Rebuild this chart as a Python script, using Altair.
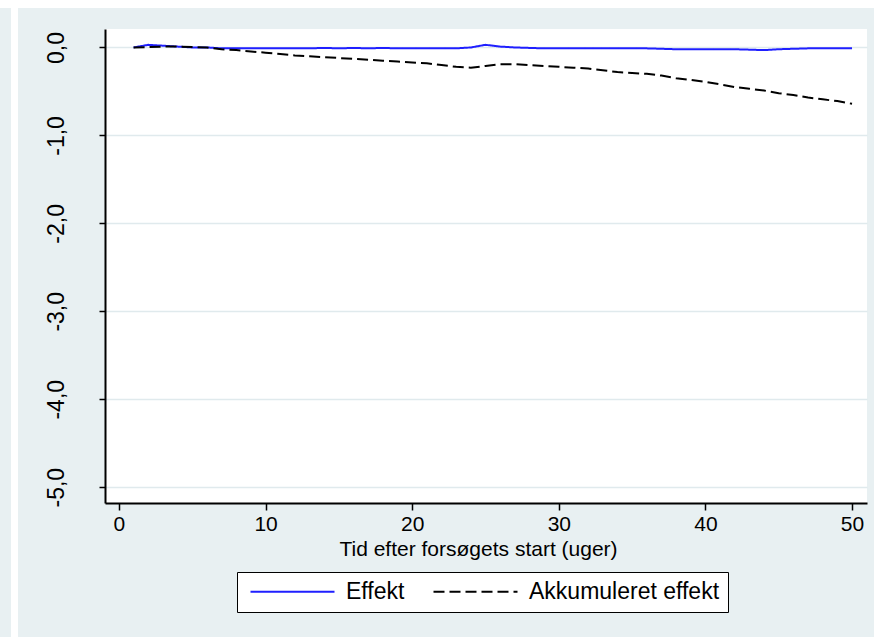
import altair as alt
import pandas as pd

# Weekly estimates, weeks 1-50
uger = list(range(1, 51))

effekt = [
    0.00, 0.03, 0.02, 0.01, 0.00, 0.00, -0.01, -0.01, -0.01, -0.01,
    -0.01, -0.01, -0.01, -0.005, -0.01, -0.005, -0.01, -0.005, -0.01, -0.01,
    -0.01, -0.01, -0.01, 0.00, 0.03, 0.01, 0.00, -0.005, -0.01, -0.01,
    -0.01, -0.01, -0.01, -0.01, -0.01, -0.01, -0.015, -0.02, -0.02, -0.02,
    -0.02, -0.02, -0.025, -0.03, -0.02, -0.015, -0.01, -0.01, -0.01, -0.01,
]

akkumuleret = [
    0.00, 0.005, 0.01, 0.01, 0.005, 0.00, -0.02, -0.03, -0.045, -0.06,
    -0.075, -0.09, -0.10, -0.11, -0.12, -0.13, -0.14, -0.15, -0.16, -0.17,
    -0.18, -0.20, -0.22, -0.23, -0.21, -0.19, -0.19, -0.20, -0.21, -0.22,
    -0.23, -0.24, -0.26, -0.28, -0.29, -0.30, -0.32, -0.35, -0.37, -0.39,
    -0.42, -0.45, -0.47, -0.49, -0.52, -0.54, -0.57, -0.59, -0.61, -0.64,
]

serier = ["Effekt", "Akkumuleret effekt"]
farver = ["#1f1fff", "#000000"]
streger = [[1, 0], [11, 5]]

x_ticks = [0, 10, 20, 30, 40, 50]
y_ticks = [0, -1, -2, -3, -4, -5]

df = pd.DataFrame({
    "uge": uger + uger,
    "vaerdi": effekt + akkumuleret,
    "serie": [serier[0]] * len(uger) + [serier[1]] * len(uger),
})

W, H = 762, 474
BG = "#E8F0F2"
GRID = "#E0EAED"
FONT = "Liberation Sans, Arial, sans-serif"

legend = alt.Legend(
    title=None,
    orient="none",
    legendX=132,
    legendY=543,
    direction="horizontal",
    strokeColor="black",
    fillColor="white",
    padding=8,
    labelFont=FONT,
    labelFontSize=23,
    labelColor="black",
    labelLimit=400,
    symbolType="M-4,0L4,0",
    symbolSize=441,
    symbolStrokeWidth=2,
    symbolOffset=36,
    labelOffset=42,
    columnPadding=23,
)

x_enc = alt.X(
    "uge:Q",
    scale=alt.Scale(domain=[-0.95, 51.02], nice=False, zero=False),
    axis=alt.Axis(
        values=x_ticks,
        title="Tid efter forsøgets start (uger)",
        grid=False,
        labelFont=FONT,
        labelFontSize=21,
        labelColor="black",
        labelPadding=3,
        titleFont=FONT,
        titleFontSize=21,
        titleFontWeight="normal",
        titleColor="black",
        titlePadding=4,
        titleX=373,
        titleAlign="center",
        tickSize=7,
    ),
)

y_enc = alt.Y(
    "vaerdi:Q",
    scale=alt.Scale(domain=[-5.18, 0.21], nice=False, zero=False),
    axis=alt.Axis(
        values=y_ticks,
        title=None,
        grid=True,
        gridColor=GRID,
        gridWidth=1.5,
        labelFont=FONT,
        labelFontSize=23,
        labelColor="black",
        labelAngle=270,
        labelAlign="center",
        labelBaseline="alphabetic",
        labelPadding=36,
        tickSize=6,
        labelExpr="(datum.value < 0 ? '-' : '') + replace(format(abs(datum.value), '.1f'), '.', ',')",
    ),
)

color_enc = alt.Color("serie:N", scale=alt.Scale(domain=serier, range=farver), sort=serier, legend=legend)
dash_enc = alt.StrokeDash("serie:N", scale=alt.Scale(domain=serier, range=streger), sort=serier, legend=legend)

base = alt.Chart(df).mark_line(strokeWidth=2, clip=True).encode(
    x=x_enc, y=y_enc, color=color_enc, strokeDash=dash_enc
)

linje_effekt = base.transform_filter(alt.datum.serie == serier[0])
linje_akk = base.transform_filter(alt.datum.serie == serier[1])

# White margin strips of the surrounding figure
pad = pd.DataFrame({"k": [0]})
strip_top = alt.Chart(pad).mark_rect(color="white").encode(
    x=alt.value(-105), x2=alt.value(769), y=alt.value(-29), y2=alt.value(-21)
)
strip_left = alt.Chart(pad).mark_rect(color="white").encode(
    x=alt.value(-94), x2=alt.value(-87), y=alt.value(-21), y2=alt.value(608)
)

chart = (
    alt.layer(strip_top, strip_left, linje_effekt, linje_akk)
    .properties(
        width=W,
        height=H,
        background=BG,
        padding={"left": 105, "top": 29, "right": 7, "bottom": 134},
        autosize=alt.AutoSizeParams(type="none"),
    )
    .configure_view(fill="white", stroke=None)
    .configure_axis(
        domainColor="black",
        domainWidth=2,
        tickColor="black",
        tickWidth=1.5,
    )
)

chart.save("out.html", embed_options={"renderer": "svg", "actions": False})
